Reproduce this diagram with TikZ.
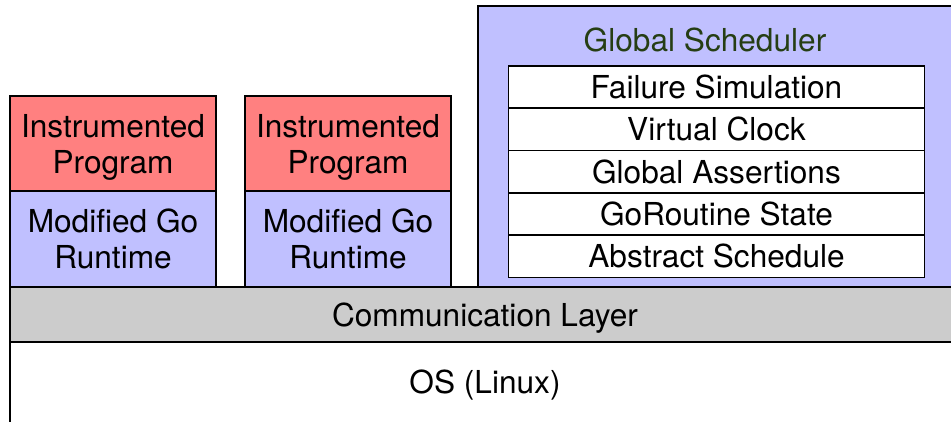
\documentclass[tikz,border=0pt]{standalone}
\usepackage{fontspec}
\setmainfont{TeX Gyre Heros}

\definecolor{progred}{RGB}{255,128,128}
\definecolor{rtblue}{RGB}{192,192,255}
\definecolor{layergray}{RGB}{204,204,204}
\definecolor{titlegreen}{RGB}{38,62,20}

\begin{document}
\begin{tikzpicture}[x=0.02cm, y=-0.02cm,
	box/.style={draw, line width=1pt, rectangle, inner sep=0pt, align=center, font=\fontsize{18}{20.5}\selectfont},
	progbox/.style={box, fill=progred, minimum width=\StackW*0.02cm, minimum height=95*0.02cm},
	rtbox/.style={box, fill=rtblue, minimum width=\StackW*0.02cm, minimum height=96*0.02cm},
	rowbox/.style={box, fill=white, minimum width=416*0.02cm, minimum height=\RowH*0.02cm},
	layerbox/.style={box, minimum width=950*0.02cm}]

	\def \StackW {206} %in px
	\def \RowH {42.3}
	\def \RowX {716.5}

	\useasboundingbox (0,0) rectangle (951,422);

	% bottom layers
	\node (OS) at (485,383) [layerbox, fill=white, minimum height=82*0.02cm, text height=0.55cm]{OS (Linux)};
	\node (Comm) at (485,314.5) [layerbox, fill=layergray, minimum height=55*0.02cm, text height=0.6cm]{Communication Layer};

	% the two program stacks
	\node (Prog0) at (113,143.5) [progbox, text height=1.32cm]{Instrumented\\Program};
	\node (RT0) at (113,239) [rtbox]{Modified Go\\Runtime};
	\node (Prog1) at (348,143.5) [progbox, text height=1.32cm]{Instrumented\\Program};
	\node (RT1) at (348,239) [rtbox]{Modified Go\\Runtime};

	% scheduler block
	\node (Sched) at (719,146.5) [box, fill=rtblue, minimum width=482*0.02cm, minimum height=281*0.02cm]{};
	\node (SchedTitle) at (705,40) [font=\fontsize{18}{20.5}\selectfont, text=titlegreen]{Global Scheduler};
	\node (Fail) at (\RowX,66+0.5*\RowH) [rowbox]{Failure Simulation};
	\node (Clock) at (\RowX,66+1.5*\RowH) [rowbox]{Virtual Clock};
	\node (Assert) at (\RowX,66+2.5*\RowH) [rowbox]{Global Assertions};
	\node (GoState) at (\RowX,66+3.5*\RowH) [rowbox]{GoRoutine State};
	\node (Abstract) at (\RowX,66+4.5*\RowH) [rowbox]{Abstract Schedule};

\end{tikzpicture}
\end{document}
